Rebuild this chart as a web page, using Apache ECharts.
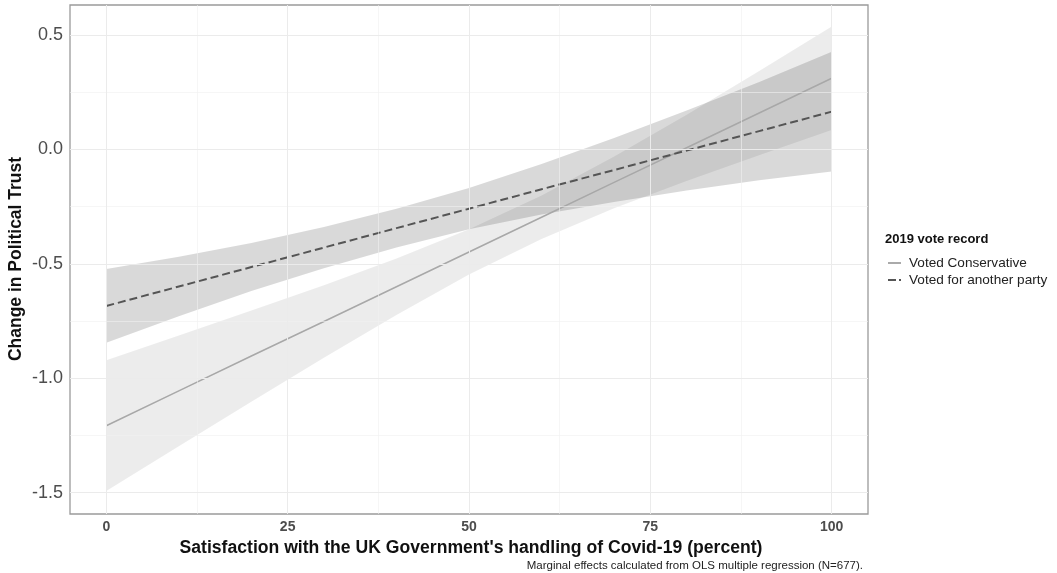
<!DOCTYPE html>
<html>
<head>
<meta charset="utf-8">
<script src="https://cdn.jsdelivr.net/npm/echarts@6/dist/echarts.min.js"></script>
<style>
  html, body { margin: 0; padding: 0; background: #fff; }
  #chart { width: 1057px; height: 573px; }
</style>
</head>
<body>
<div id="chart"></div>
<script>
// satisfaction (percent) where the estimates were read
const satisfaction = [0, 10, 20, 30, 40, 50, 60, 70, 80, 90, 100];

// Voted Conservative: fitted line and 95% band
const conFit  = [-1.207, -1.055, -0.903, -0.752, -0.600, -0.448, -0.296, -0.144, 0.007, 0.159, 0.311];
const conHigh = [-0.921, -0.813, -0.704, -0.594, -0.477, -0.349, -0.201, -0.031, 0.152, 0.343, 0.537];
const conLow  = [-1.493, -1.297, -1.102, -0.910, -0.723, -0.547, -0.391, -0.257, -0.138, -0.025, 0.085];

// Voted for another party
const othFit  = [-0.684, -0.599, -0.514, -0.429, -0.344, -0.259, -0.174, -0.090, -0.005, 0.080, 0.165];
const othHigh = [-0.523, -0.469, -0.409, -0.339, -0.259, -0.169, -0.064, 0.050, 0.170, 0.295, 0.427];
const othLow  = [-0.845, -0.729, -0.619, -0.519, -0.429, -0.349, -0.284, -0.230, -0.180, -0.135, -0.097];

const xTicks = [0, 25, 50, 75, 100];
const xMinor = [12.5, 37.5, 62.5, 87.5];
const yTicks = [-1.5, -1.0, -0.5, 0.0, 0.5];
const yMinor = [-1.25, -0.75, -0.25, 0.25];

const seriesNames = ['Voted Conservative', 'Voted for another party'];

const chart = echarts.init(document.getElementById('chart'));

// one polygon per band, built from the arrays through the axes
function bandSeries(name, low, high, color) {
  return {
    name: name + ' band',
    type: 'custom',
    z: 2,
    silent: true,
    data: satisfaction.map((x, i) => [x, low[i], high[i]]),
    renderItem(params, api) {
      if (params.dataIndex !== 0) return null;
      const pts = [];
      satisfaction.forEach((x, i) => pts.push(api.coord([x, high[i]])));
      for (let i = satisfaction.length - 1; i >= 0; i--) pts.push(api.coord([satisfaction[i], low[i]]));
      return { type: 'polygon', shape: { points: pts }, style: { fill: color } };
    }
  };
}

function gridLines(values, dim, width, color) {
  return values.map(v => ({ [dim]: v, lineStyle: { width: width, color: color, type: 'solid' } }));
}

const option = {
  animation: false,
  grid: { left: 70, right: 189, top: 5, bottom: 59, show: true, borderColor: '#9a9a9a', borderWidth: 1.3, backgroundColor: 'transparent' },
  xAxis: {
    type: 'value', min: -5, max: 105,
    axisLine: { show: false },
    splitLine: { show: false },
    axisTick: { show: true, customValues: xTicks, length: 4, lineStyle: { color: '#555' } },
    axisLabel: { customValues: xTicks, margin: 6, fontFamily: 'Liberation Sans, Arial', fontWeight: 'bold', fontSize: 14, color: '#4d4d4d' }
  },
  yAxis: {
    type: 'value', min: -1.593, max: 0.631,
    axisLine: { show: false },
    splitLine: { show: false },
    axisTick: { show: true, customValues: yTicks, length: 4, lineStyle: { color: '#555' } },
    axisLabel: { customValues: yTicks, margin: 7, fontFamily: 'Liberation Sans, Arial', fontSize: 18, color: '#4d4d4d',
      formatter: v => v.toFixed(1) }
  },
  legend: {
    orient: 'vertical', left: 883, top: 251, itemWidth: 13, itemHeight: 2, itemGap: 3,
    data: [
      { name: seriesNames[0], icon: 'path://M0,0H13V2H0Z', itemStyle: { color: '#aaaaaa' } },
      { name: seriesNames[1], icon: 'path://M0,0H8V2H0Z M11,0H13V2H11Z', itemStyle: { color: '#555555' } }
    ],
    textStyle: { fontFamily: 'Liberation Sans, Arial', fontSize: 13.6, color: '#222', padding: [0, 0, 0, 3] }
  },
  graphic: [
    { type: 'text', left: 885, top: 233, style: { text: '2019 vote record', font: 'bold 13px "Liberation Sans", Arial', fill: '#111' } },
    { type: 'text', x: 16, y: 259, rotation: Math.PI / 2, style: { text: 'Change in Political Trust', font: 'bold 17.5px "Liberation Sans", Arial', fill: '#111', align: 'center', verticalAlign: 'middle' } },
    { type: 'text', x: 471, y: 548, style: { text: "Satisfaction with the UK Government's handling of Covid-19 (percent)", font: 'bold 17.6px "Liberation Sans", Arial', fill: '#111', align: 'center', verticalAlign: 'middle' } },
    { type: 'text', x: 863, y: 566, style: { text: 'Marginal effects calculated from OLS multiple regression (N=677).', font: '11.5px "Liberation Sans", Arial', fill: '#222', align: 'right', verticalAlign: 'middle' } }
  ],
  series: [
    {
      name: 'grid', type: 'line', z: 1, silent: true, symbol: 'none',
      data: [[0, 0]], lineStyle: { opacity: 0 },
      markLine: {
        silent: true, symbol: 'none', label: { show: false }, animation: false,
        data: [].concat(
          gridLines(xMinor, 'xAxis', 0.6, '#f0f0f0'),
          gridLines(yMinor, 'yAxis', 0.6, '#f0f0f0'),
          gridLines(xTicks, 'xAxis', 1, '#ebebeb'),
          gridLines(yTicks, 'yAxis', 1, '#ebebeb')
        )
      }
    },
    bandSeries(seriesNames[0], conLow, conHigh, 'rgba(0,0,0,0.075)'),
    bandSeries(seriesNames[1], othLow, othHigh, 'rgba(0,0,0,0.15)'),
    {
      name: seriesNames[0], type: 'line', z: 3, symbol: 'none',
      data: satisfaction.map((x, i) => [x, conFit[i]]),
      lineStyle: { color: '#a8a8a8', width: 1.6, type: 'solid' },
      itemStyle: { color: '#a8a8a8' }
    },
    {
      name: seriesNames[1], type: 'line', z: 3, symbol: 'none',
      data: satisfaction.map((x, i) => [x, othFit[i]]),
      lineStyle: { color: '#555', width: 2, type: [8, 4] },
      itemStyle: { color: '#555' }
    }
  ]
};

chart.setOption(option);
</script>
</body>
</html>
